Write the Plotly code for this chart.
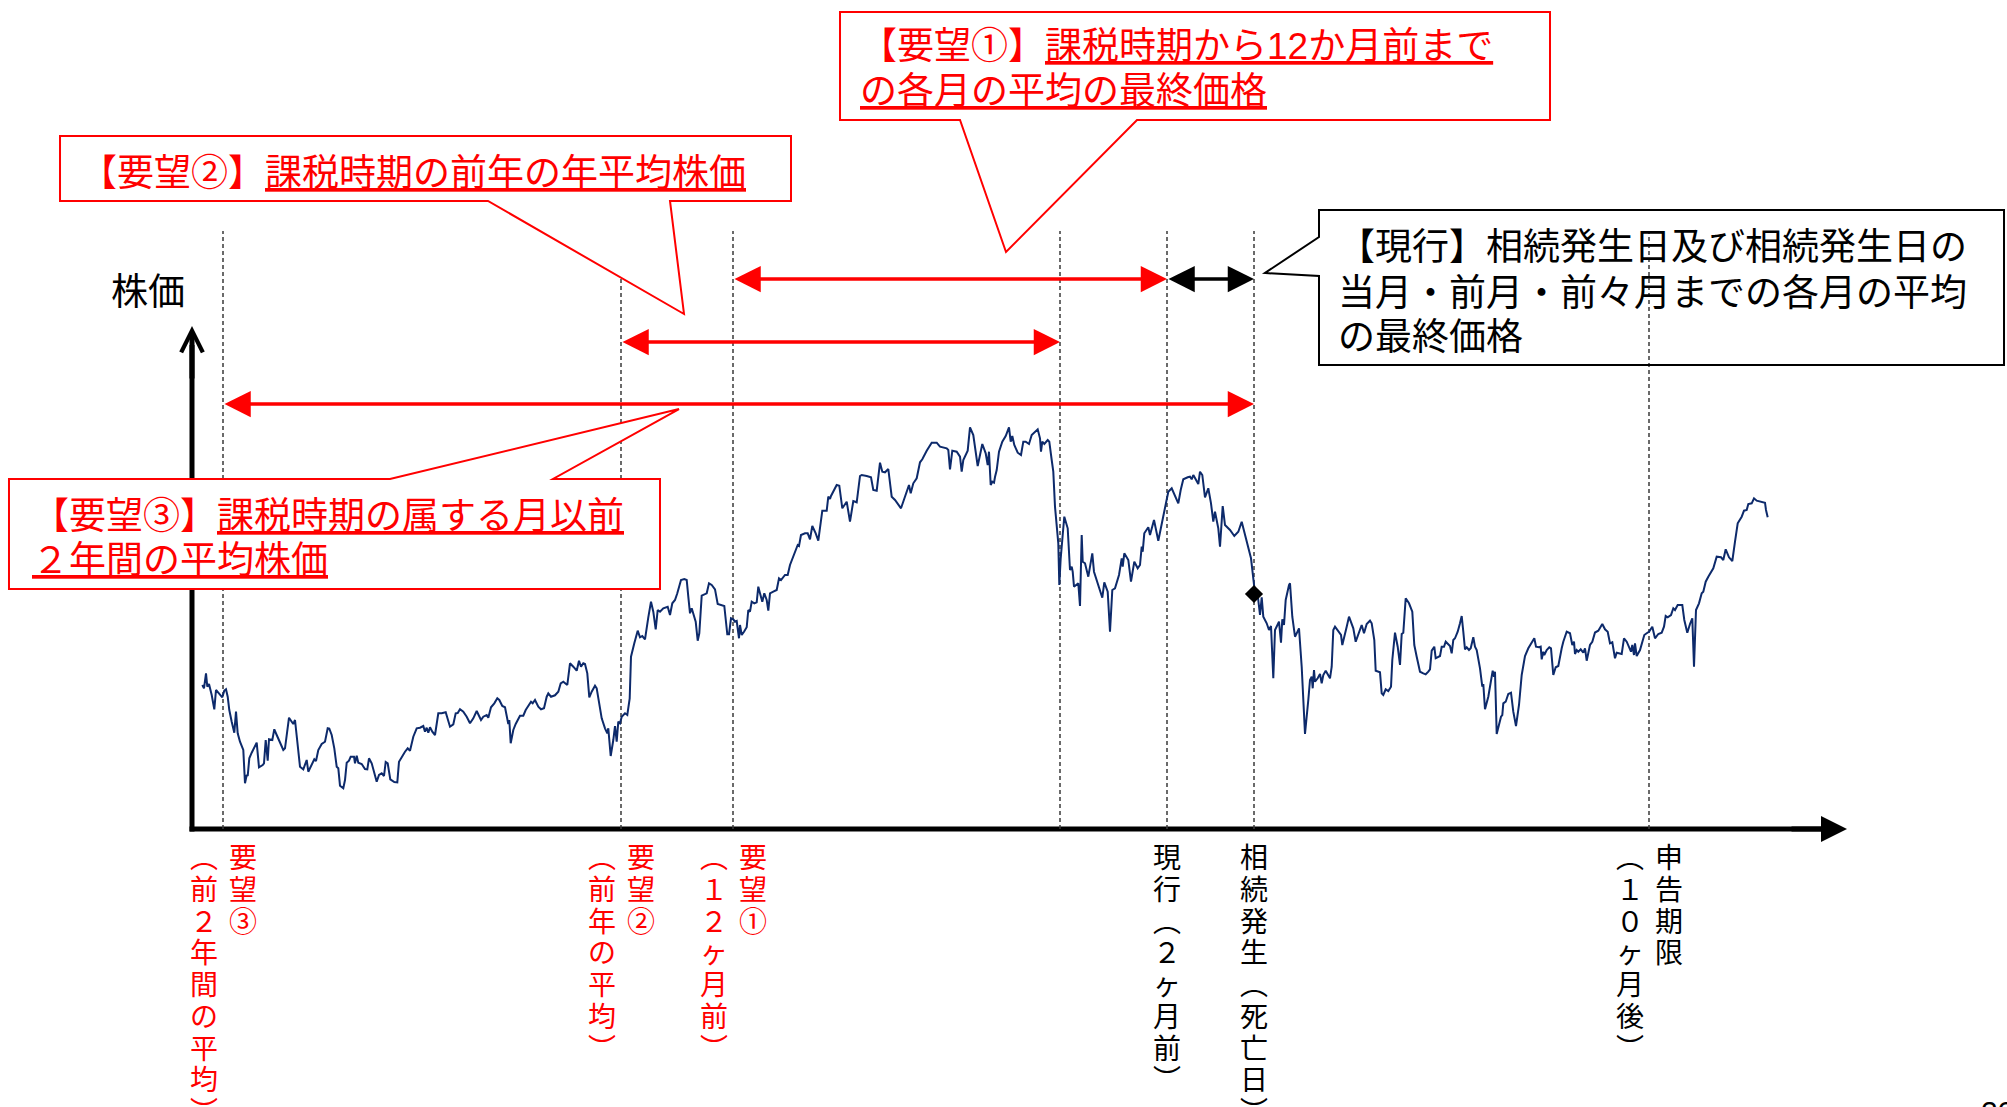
import plotly.graph_objects as go

W, H = 2007, 1107
FONT = "Liberation Sans, Noto Sans CJK JP"
LABEL_FONT = "Liberation Sans, Noto Sans CJK JP"
RED = "#FF0000"
NAVY = "#0D2A6B"

# ---------------- data (time index, price) ----------------
t = [2.3, 4, 6, 7.3, 9, 11.7, 14.3, 16, 18.3, 22.3, 24.3, 26, 27.7, 29.3, 31.7, 34.3, 36, 37.7, 40, 43.3,
     45, 46.7, 47.7, 49.3, 51.7, 55, 56.7, 59, 62.7, 64, 65.7, 67.7, 69, 72.3, 74.3, 76.7, 80, 83.3, 85, 89,
     91.7, 93.3, 95, 98.3, 100, 103.3, 106.7, 108.3, 111.7, 114.3, 116, 118.3, 121.7, 125, 127.7, 129.3, 131.7,
     134.3, 136.7, 138.3, 140, 143.3, 145, 146.7, 149, 150.7, 154, 155, 156.7, 158.3, 161.7, 165, 167.3, 169,
     171.7, 176.7, 179, 181.7, 184, 185.7, 187.7, 190.3, 194.3, 197.3,
     199, 201.7, 205, 207.7, 210, 213.3, 216.7, 220, 223.3, 225, 226.7, 228.3, 230, 232.3, 235, 238.3, 241.7,
     245.7, 247.3, 250, 253.3, 255.7, 257.7, 260, 263.3, 266.7, 270, 273.3, 276.7, 278.3, 281, 283.3, 286.7,
     288.3, 291, 294.3, 297.3, 299.3, 302.3, 305, 307.3, 308.3, 309.3, 310.7, 313.3, 315.7, 320, 323.3, 325.7,
     327.7, 329.3, 331, 332.7, 335, 338.3, 341, 344, 346.7, 348.3, 351, 355, 358.3, 360.7, 363.3, 367.3, 370,
     373.3, 376.7, 379, 381, 383.3, 385, 387.3, 389.3, 391.7,
     395, 396.7, 399, 401.7, 405, 407.3, 408.3, 410.7, 413.3, 415, 416.7, 418.3, 420, 421.7, 425, 427.3, 429.7,
     431, 434.3, 437.7, 440, 442.3, 445, 447.3, 448.3, 451, 453.3, 455.7, 457.7, 460, 463.3, 467.7, 470, 472.3,
     475, 477.3, 481, 484.3, 486.7, 488.3, 490, 491.7, 493.3, 495.7, 497.7, 499.3, 501.7, 505, 506.7, 509, 511.7,
     515, 517.7, 524.3, 525.7, 527.3, 529, 531, 533.3, 535, 536.7, 537.7, 539, 540, 541.7, 544, 546.7, 548.3,
     550, 551.7, 554.3, 556.7, 558.3, 560, 562.3, 564.3, 566.7, 568.3, 570, 573.3, 576.7, 579, 581, 585, 587.7,
     590, 593.3,
     595, 597.7, 599, 601, 605, 607.7, 610, 612.3, 615.7, 618.3, 622.3, 626.7, 628.3, 630, 631, 634.3, 636.7,
     639.3, 642.3, 646.7, 650, 653.3, 656.7, 660, 661.7, 666.7, 671, 673.3, 676.7, 680, 682.3, 685, 688.3, 691.7,
     695, 701, 705.7, 709, 710.7, 713.3, 716.7, 720, 722.3, 726.7, 731.7, 736.7, 740, 746.7, 748.3, 750, 752.3,
     756.7, 760, 761.7, 763.3, 767.7, 770, 773.3, 777.7, 782.3, 785.7, 787.7, 789, 790.7, 792.3, 794,
     795, 796.7, 799, 802.3, 805.7, 809, 810.7, 812.3, 814.3, 817.7, 821, 823.3, 825.7, 829, 831.7, 835, 837.7,
     840, 841, 842.3, 844.3, 847.7, 849.3, 851.7, 853.3, 855, 858.3, 859.3, 860.7, 862.7, 864.3, 867.7, 870,
     871.7, 872.7, 874, 876.7, 878.3, 880, 881.7, 882.7, 885, 888.3, 892.3, 894, 898.3, 902.3, 904.3, 907.7, 910,
     912.3, 915, 919, 921.7, 922.7, 924.3, 928.3, 931, 934.3, 937.7, 940, 941.7, 942.7, 944.3, 946.7, 948.3, 950,
     954, 958.3, 963.3, 966.7, 968.3, 971.7, 975, 978.3, 980.7, 983.3, 987.7, 990, 991.7, 993.3,
     995, 998.3, 1000, 1002.3, 1005, 1008.3, 1011, 1013.3, 1015, 1018.3, 1020, 1022.7, 1025, 1030, 1034.3,
     1038.3, 1041.7, 1045, 1048.3, 1051, 1053.3, 1055, 1057.7, 1060, 1061.7, 1063.3, 1066.7, 1069, 1071, 1073.3,
     1075, 1077.7, 1079, 1081, 1082.3, 1084, 1085.7, 1089, 1090, 1092.3, 1095, 1096.7, 1099, 1101.7, 1105,
     1108.3, 1110, 1111.7, 1112.7, 1114, 1115, 1117.7, 1120, 1121.7, 1123.3, 1125.7, 1128.3, 1130, 1131.7,
     1133.3, 1135, 1139, 1141, 1142.3, 1144.3, 1146.7, 1149, 1151.7, 1153.3, 1155.7, 1158.3, 1161.7, 1164,
     1166.7, 1170, 1171.7, 1174.3, 1175.7, 1180, 1181.7, 1183.3, 1185.7, 1188.3, 1191, 1192.3,
     1195, 1197.7, 1200, 1201.7, 1203.3, 1205.7, 1209, 1212.3, 1214.3, 1216.7, 1220, 1223.3, 1225.7, 1228.3,
     1230, 1231.7, 1234.3, 1235.7, 1238.3, 1240, 1241.7, 1244, 1245.7, 1248.3, 1250, 1251.7, 1253.3, 1255,
     1257.7, 1260, 1261.7, 1263.3, 1265, 1266.7, 1269, 1270.7, 1273.3, 1275, 1276.7, 1280, 1282.3, 1283.3, 1285,
     1288.3, 1291.7, 1292.7, 1294, 1295, 1296.7, 1299, 1301, 1302.3, 1303.3, 1305.7, 1308.3, 1311, 1313.3, 1316,
     1319, 1321.7, 1325, 1328.3, 1331.7, 1334.3, 1336, 1339, 1340.7, 1341.7, 1343.3, 1344.3, 1346.7, 1349.3,
     1351, 1353.3, 1355.7, 1358.3, 1361.7, 1363.3, 1366.7, 1370, 1372.3, 1374, 1375, 1376.7, 1378.3, 1380.7,
     1383.3, 1385, 1386.7, 1390, 1392.3,
     1395, 1398.3, 1402.3, 1405, 1407.7, 1410, 1412.3, 1415, 1416.7, 1421.7, 1424, 1426.7, 1431, 1432.3, 1434,
     1435, 1436.7, 1440, 1444.3, 1446.7, 1449, 1452.3, 1455, 1458.3, 1461.7, 1464, 1465.7, 1467.7, 1471, 1473.3,
     1475, 1477.7, 1482.3, 1484.3, 1487.3, 1490, 1492.3, 1494, 1496, 1499, 1501.7, 1503.3, 1505.7, 1508.3,
     1513.3, 1516.7, 1521, 1523.3, 1525.7, 1529, 1532.3, 1535, 1537.7, 1541.7, 1544, 1546.7, 1548.3, 1551.7,
     1554, 1556.7, 1560.7, 1565, 1566, 1567.7]

price = [1440, 1407, 1557, 1423, 1450, 1340, 1197, 1390, 1363, 1317, 1383, 1397, 1323, 1190, 1073, 963, 1173, 957, 873, 790,
         457, 540, 530, 707, 763, 840, 863, 617, 640, 657, 890, 683, 897, 890, 997, 940, 857, 790, 807, 1113,
         1073, 1050, 1090, 757, 623, 597, 690, 573, 640, 697, 680, 790, 850, 873, 1007, 1003, 940,
         807, 623, 607, 433, 407, 490, 663, 683, 723, 723, 657, 733, 663, 650, 600, 597, 707,
         657, 473, 540, 557, 530, 670, 657, 497, 470, 467,
         673, 723, 773, 807, 783, 923, 1007, 1013, 1030, 973, 1013, 963, 1017, 973, 940, 1157, 1157,
         1167, 1117, 1023, 1047, 1157, 1160, 1197, 1173, 1123, 1057, 1107, 1180, 1147, 1090, 1123, 1140,
         1113, 1217, 1257, 1307, 1290, 1230, 1217, 1090, 1050, 1090, 857, 990, 1050, 1133, 1133, 1190,
         1223, 1257, 1273, 1257, 1290, 1223, 1197, 1207, 1323, 1357, 1323, 1337, 1373, 1457, 1473, 1440, 1657,
         1623, 1583, 1683, 1623, 1657, 1650, 1557, 1317, 1373,
         1433, 1407, 1257, 1107, 1007, 957, 1007, 730, 890, 1030, 873, 1073, 1057, 1123, 1157, 1140, 1307,
         1723, 1857, 1983, 1917, 1930, 1897, 2090, 2117, 2273, 2173, 1997, 2190, 2173, 2207, 2223, 2140, 2257,
         2290, 2357, 2490, 2500, 2490, 2323, 2157, 2207, 2150, 2073, 1883, 1957, 2333, 2347, 2357, 2457, 2440,
         2397, 2250, 2230, 2090, 1947, 1947, 2107, 2097, 2073, 2080, 2007, 1907, 2040, 1940, 1973, 2017, 2190,
         2173, 2273, 2257, 2267, 2423, 2357, 2273, 2357, 2290, 2183, 2357, 2373, 2390, 2507, 2490, 2540, 2540,
         2640, 2730,
         2757, 2840, 2830, 2940, 2957, 2957, 2897, 3030, 2957, 2883, 3183, 3183, 3323, 3300, 3330, 3397, 3440,
         3433, 3207, 3273, 3073, 3280, 3267, 3530, 3540, 3530, 3517, 3390, 3383, 3663, 3573, 3567, 3600, 3323,
         3290, 3207, 3357, 3440, 3357, 3457, 3507, 3667, 3697, 3783, 3863, 3863, 3823, 3807, 3790, 3597, 3783,
         3773, 3723, 3573, 3690, 3783, 4017, 3940, 3630, 3850, 3757, 3640, 3773, 3440, 3473, 3463,
         3520, 3590, 3773, 3873, 3930, 4017, 3873, 3930, 3840, 3763, 3740, 3873, 3873, 3850, 3940, 3973, 3997,
         3907, 3773, 3873, 3850, 3890, 3873, 3690, 3573, 3223, 2857, 2440, 2707, 2940, 3123, 3007, 2590,
         2623, 2573, 2423, 2440, 2457, 2230, 2940, 2673, 2657, 2523, 2757, 2573, 2440, 2313, 2467, 2373, 1973,
         2390, 2407, 2540, 2707, 2623, 2757, 2690, 2473, 2673, 2607, 2640, 2823, 2773, 2957, 2990, 3017, 2940,
         3090, 2883, 3123, 3273, 3373, 3407, 3340, 3257, 3390, 3497, 3517, 3523, 3497, 3540,
         3510, 3450, 3573, 3540, 3317, 3407, 3257, 3073, 3173, 3007, 2823, 3230, 3040, 2990, 2930,
         2973, 3073, 2940, 2817, 2707, 2507, 2357, 2340, 2140, 2317, 2123, 2057, 1990, 2030, 1507,
         1990, 2050, 2073, 1863, 2097, 2040, 2290, 2440, 2457, 2123, 1923, 1957, 2007, 1623, 950,
         1290, 1490, 1523, 1407, 1590, 1473, 1507, 1550, 1457, 1540, 1583, 1540, 1507, 1623,
         1990, 2023, 1973, 1940, 1840, 1940, 2023, 2123, 2057, 2007, 1873, 1940, 2040, 1957,
         2050, 2083, 2057, 1890, 1583, 1567, 1357, 1340, 1397, 1380, 1423, 1690,
         1963, 1823, 1640, 1950, 1963, 2307, 2257, 2173, 1840, 1723, 1573, 1557, 1547, 1573,
         1597, 1783, 1823, 1707, 1723, 1730, 1823, 1823, 1873, 1850, 1830, 1757, 1890, 1907,
         1973, 2057, 2130, 1973, 1797, 1817, 1790, 1807, 1917, 1823, 1790, 1607, 1423, 1450, 1197,
         1323, 1550, 1583, 1523, 1573, 950, 1057, 1123, 1140, 1257, 1273, 1350, 1363, 1173, 1030,
         1240, 1540, 1730, 1807, 1863, 1907, 1823, 1817, 1823, 1697, 1773, 1740, 1790, 1817,
         1807, 1540, 1617, 1630, 1807, 1873, 1973, 1957, 1840, 1873, 1750, 1790, 1773, 1797,
         1763, 1807, 1683, 1840, 1873,
         1965, 1983, 2050, 1997, 1973, 1857, 1867, 1707, 1763, 1750, 1907, 1873, 1773, 1840, 1740,
         1857, 1730, 1790, 1940, 1957, 1973, 2023, 1907, 1950, 1963, 2023, 2130, 2117, 2140, 2207,
         2190, 2240, 2240, 2090, 1963, 2050, 2107, 1623, 2190, 2257, 2357, 2373, 2473, 2523,
         2607, 2723, 2717, 2690, 2797, 2717, 2680, 2873, 3057, 3123, 3183, 3190, 3250, 3257,
         3307, 3283, 3270, 3263, 3190, 3117]

# event positions on the time axis and their labels
event_t = [23, 421, 533, 860, 967, 1054, 1449]
event_name = ["要望③", "要望②", "要望①", "", "現行", "相続発生", "申告期限"]
event_note = ["（前２年間の平均）", "（前年の平均）", "（１２ヶ月前）", "", "（２ヶ月前）", "（死亡日）", "（１０ヶ月後）"]
event_red = [True, True, True, False, False, False, False]
event_stacked = [False, False, False, False, True, True, False]
death_price = 2350

# averaging windows (start event index, end event index)
windows = [(0, 5), (1, 3), (2, 4), (4, 5)]
window_red = [True, True, True, False]

callout1 = [("【要望①】", "課税時期から12か月前まで"), ("", "の各月の平均の最終価格")]
callout2 = [("【要望②】", "課税時期の前年の年平均株価")]
callout3 = [("【要望③】", "課税時期の属する月以前"), ("", "２年間の平均株価")]
callout_now = ["【現行】相続発生日及び相続発生日の", "当月・前月・前々月までの各月の平均", "の最終価格"]
y_label = "株価"
page_no = "20"

# ---------------- geometry helpers ----------------
X_RANGE = [-200, 1807]
Y_RANGE = [-2780, 8290]


def dx(px):
    return X_RANGE[0] + px * (X_RANGE[1] - X_RANGE[0]) / W


def dy(py):
    return Y_RANGE[1] - py * (Y_RANGE[1] - Y_RANGE[0]) / H


def pxp(x):
    return x / W


def pyp(y):
    return 1 - y / H


def path(points):
    return "M" + " L".join(f"{pxp(x):.5f},{pyp(y):.5f}" for x, y in points) + " Z"


def ul(s):
    return f'<span style="text-decoration:underline">{s}</span>' if s else ""


fig = go.Figure()

# price line
fig.add_trace(go.Scatter(x=t, y=price, mode="lines", line=dict(color=NAVY, width=2),
                         hoverinfo="skip"))
# death-date marker
fig.add_trace(go.Scatter(x=[event_t[5]], y=[death_price], mode="markers",
                         marker=dict(symbol="diamond", size=14, color="black"), hoverinfo="skip"))

shapes = []
# axis lines (drawn beneath the callouts)
shapes.append(dict(type="line", xref="paper", yref="paper", x0=pxp(192), x1=pxp(192), y0=pyp(831.5), y1=pyp(345),
                   line=dict(color="black", width=5), layer="below"))
shapes.append(dict(type="line", xref="paper", yref="paper", x0=pxp(189.5), x1=pxp(1825), y0=pyp(829), y1=pyp(829),
                   line=dict(color="black", width=5), layer="below"))
# dashed event lines
for te in event_t:
    shapes.append(dict(type="line", xref="x", yref="y", x0=te, x1=te, y0=0, y1=dy(231),
                       line=dict(color="#3a3a3a", width=1.5, dash="4px,3px"), layer="below"))

# callout boxes
shapes.append(dict(type="path", xref="paper", yref="paper",
                   path=path([(840, 12), (1550, 12), (1550, 120), (1137, 120), (1006, 252), (960, 120), (840, 120)]),
                   line=dict(color=RED, width=2), fillcolor="white", layer="above"))
shapes.append(dict(type="path", xref="paper", yref="paper",
                   path=path([(60, 136), (791, 136), (791, 201), (670, 201), (684, 314), (488, 201), (60, 201)]),
                   line=dict(color=RED, width=2), fillcolor="white", layer="above"))
shapes.append(dict(type="path", xref="paper", yref="paper",
                   path=path([(9, 479), (390, 479), (679, 409), (553, 479), (660, 479), (660, 589), (9, 589)]),
                   line=dict(color=RED, width=2), fillcolor="white", layer="above"))
shapes.append(dict(type="path", xref="paper", yref="paper",
                   path=path([(1319, 210), (2004, 210), (2004, 365), (1319, 365), (1319, 276), (1265, 273), (1319, 237)]),
                   line=dict(color="black", width=2), fillcolor="rgba(0,0,0,0)", layer="above"))

anns = []
# axis arrowheads
anns.append(dict(x=dx(192), y=dy(326), ax=dx(192), ay=dy(380), xref="x", yref="y", axref="x", ayref="y",
                 text="", showarrow=True, arrowhead=5, arrowsize=0.85, arrowwidth=5, arrowcolor="black"))
anns.append(dict(x=dx(1847), y=0, ax=dx(1790), ay=0, xref="x", yref="y", axref="x", ayref="y",
                 text="", showarrow=True, arrowhead=2, arrowsize=1.04, arrowwidth=5, arrowcolor="black"))

# averaging-window arrows
row_y = {0: dy(404), 1: dy(342), 2: dy(279), 3: dy(279)}
for k, ((a, b), red) in enumerate(zip(windows, window_red)):
    col = RED if red else "black"
    anns.append(dict(x=event_t[b], y=row_y[k], ax=event_t[a], ay=row_y[k], xref="x", yref="y",
                     axref="x", ayref="y", text="", showarrow=True, arrowside="end+start",
                     arrowhead=2, startarrowhead=2, arrowsize=1.5, startarrowsize=1.5,
                     arrowwidth=3.5, arrowcolor=col))


def text_ann(x, y, s, color, size=37, xanchor="left", yanchor="middle"):
    anns.append(dict(x=pxp(x), y=pyp(y), xref="paper", yref="paper", text=s, showarrow=False,
                     xanchor=xanchor, yanchor=yanchor, font=dict(family=FONT, size=size, color=color)))


for (lead, body), yy in zip(callout1, [47, 91]):
    text_ann(858, yy, lead + ul(body), RED)
for (lead, body), yy in zip(callout2, [173]):
    text_ann(78, yy, lead + ul(body), RED)
for (lead, body), yy in zip(callout3, [516, 560]):
    text_ann(30, yy, lead + ul(body), RED)
for line, yy in zip(callout_now, [248, 293, 338]):
    text_ann(1336, yy, line, "black")
text_ann(148, 292, y_label, "black", xanchor="center")
text_ann(1979, 1093, page_no, "black", size=30, yanchor="top")

# vertical event labels under the time axis (one character per cell)
VERT = str.maketrans({"（": "︵", "）": "︶"})
CELL = 31.7
for te, name, note, red, stacked in zip(event_t, event_name, event_note, event_red, event_stacked):
    if not name:
        continue
    col = RED if red else "black"
    cols = [(0, name + note)] if stacked else [(19.5, name), (-19.5, note)]
    for xs, s in cols:
        for i, ch in enumerate(s.translate(VERT)):
            anns.append(dict(x=te, y=0, xref="x", yref="y", xshift=xs, yshift=-(14 + (i + 0.5) * CELL),
                             text=ch, showarrow=False, xanchor="center", yanchor="middle",
                             font=dict(family=LABEL_FONT, size=28, color=col)))

fig.update_layout(
    width=W, height=H, autosize=False,
    margin=dict(l=0, r=0, t=0, b=0, pad=0),
    paper_bgcolor="white", plot_bgcolor="white", showlegend=False,
    xaxis=dict(range=X_RANGE, visible=False, domain=[0, 1], fixedrange=True),
    yaxis=dict(range=Y_RANGE, visible=False, domain=[0, 1], fixedrange=True),
    shapes=shapes, annotations=anns,
)

fig.write_html("out.html")
